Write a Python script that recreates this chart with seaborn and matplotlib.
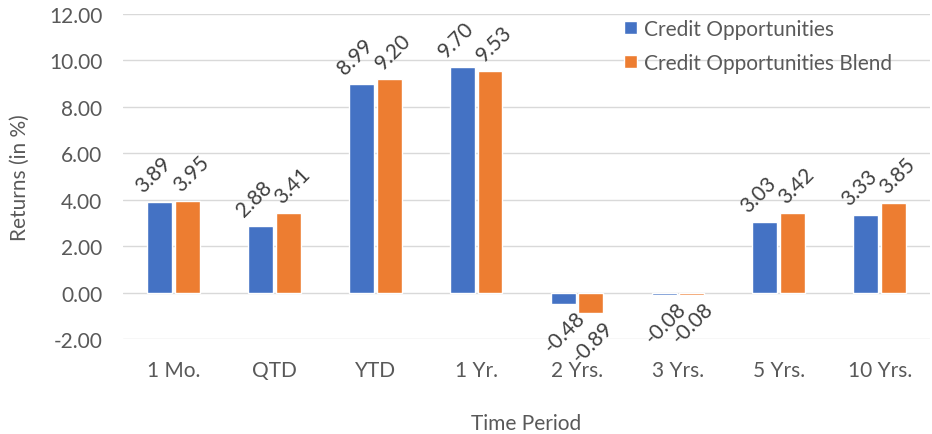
import pandas as pd
import matplotlib
matplotlib.use("Agg")
import matplotlib.pyplot as plt
import seaborn as sns

periods = ["1 Mo.", "QTD", "YTD", "1 Yr.", "2 Yrs.", "3 Yrs.", "5 Yrs.", "10 Yrs."]
fund = [3.89, 2.88, 8.99, 9.70, -0.48, -0.08, 3.03, 3.33]
blend = [3.95, 3.41, 9.20, 9.53, -0.89, -0.08, 3.42, 3.85]
series_names = ["Credit Opportunities", "Credit Opportunities Blend"]
y_ticks = [-2, 0, 2, 4, 6, 8, 10, 12]

df = pd.DataFrame({
    "period": periods * 2,
    "value": fund + blend,
    "series": [series_names[0]] * len(periods) + [series_names[1]] * len(periods),
})

sns.set_style("white")
plt.rcParams["font.family"] = ["Lato", "DejaVu Sans"]
text_col = "#595959"
fs = 15

fig = plt.figure(figsize=(9.32, 4.35), dpi=100)
ax = fig.add_axes([0.132, 0.218, 0.866, 0.748])

sns.barplot(data=df, x="period", y="value", hue="series", order=periods,
            hue_order=series_names, palette=["#4472C4", "#ED7D31"],
            width=0.55, gap=0.1, ax=ax, saturation=1)

ax.set_ylim(-2, 12)
ax.set_xlim(-0.5, len(periods) - 0.5)
ax.set_yticks(y_ticks)
ax.set_yticklabels([f"{v:.2f}" for v in y_ticks])
ax.grid(axis="y", color="#D9D9D9", linewidth=1)
ax.set_axisbelow(True)
for s in ax.spines.values():
    s.set_visible(False)
ax.tick_params(axis="both", length=0, labelsize=fs, colors=text_col)
ax.tick_params(axis="y", pad=15)
ax.tick_params(axis="x", pad=15)

ax.set_xlabel("Time Period", fontsize=fs, color=text_col, labelpad=24)
ax.set_ylabel("Returns (in %)", fontsize=fs, color=text_col, labelpad=14)

# data labels, rotated like the original
for i, cont in enumerate(ax.containers):
    dx = -4.5 if i == 0 else 3
    for bar in cont:
        h = bar.get_height()
        xc = bar.get_x() + bar.get_width() / 2
        off = (dx, 20) if h >= 0 else (1, -20)
        ax.annotate(f"{h:.2f}", (xc, h), xytext=off, textcoords="offset points",
                    rotation=45, ha="center", va="center", fontsize=fs,
                    color="#404040")

leg = ax.legend(loc="upper left", bbox_to_anchor=(0.621, 0.985), frameon=False,
                fontsize=fs, handlelength=0.6, handleheight=0.6,
                handletextpad=0.35, labelspacing=0.68, borderpad=0,
                borderaxespad=0)
for t in leg.get_texts():
    t.set_color(text_col)

fig.savefig("out.png", dpi=100)
